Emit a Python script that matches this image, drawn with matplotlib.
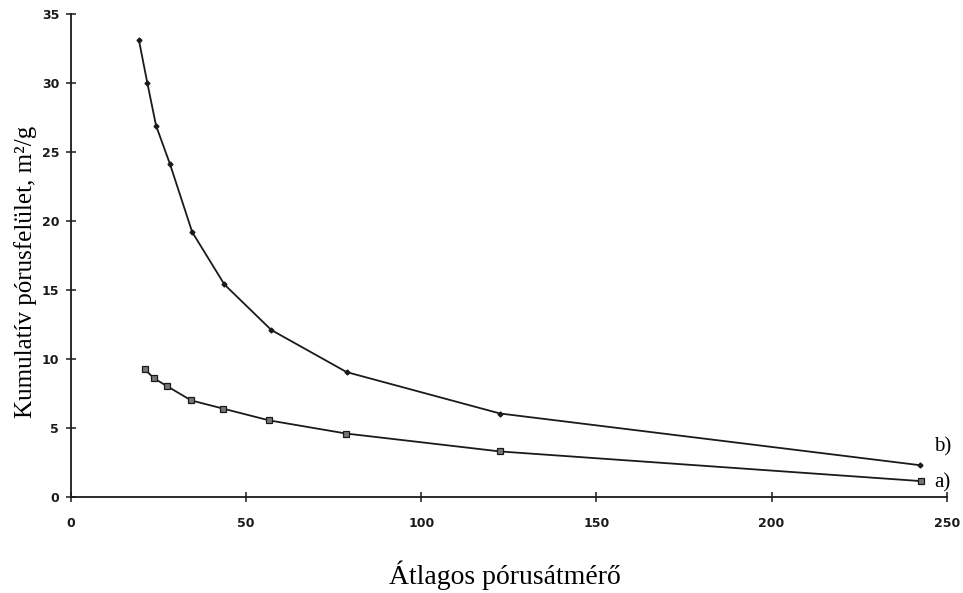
import matplotlib
matplotlib.use('Agg')
import matplotlib.pyplot as plt

# series b) (upper curve)
b_x = [19.4, 21.8, 24.3, 28.3, 34.6, 43.8, 57.2, 78.7, 122.5, 242.5]
b_y = [33.1, 30.0, 26.9, 24.1, 19.2, 15.4, 12.1, 9.05, 6.05, 2.3]
# series a) (lower curve)
a_x = [21.1, 23.7, 27.3, 34.3, 43.5, 56.6, 78.5, 122.5, 242.7]
a_y = [9.25, 8.6, 8.05, 7.0, 6.4, 5.55, 4.6, 3.3, 1.15]

x_ticks = [0, 50, 100, 150, 200, 250]
y_ticks = [0, 5, 10, 15, 20, 25, 30, 35]

serif = ['Liberation Serif', 'DejaVu Serif']

fig = plt.figure(figsize=(9.63, 5.93), dpi=100)
ax = fig.add_axes([0.0737, 0.1619, 0.9094, 0.8145])

ax.plot(b_x, b_y, color='#1a1a1a', lw=1.3, marker='D', ms=2.5,
        mfc='#1a1a1a', mec='#1a1a1a')
ax.plot(a_x, a_y, color='#1a1a1a', lw=1.3, marker='s', ms=5,
        mfc='#777777', mec='#1a1a1a', mew=0.9)

ax.text(246.5, 3.6, 'b)', family=serif, fontsize=15, va='center', ha='left')
ax.text(246.5, 1.0, 'a)', family=serif, fontsize=15, va='center', ha='left')

ax.set_xlim(0, 250)
ax.set_ylim(0, 35)
ax.set_xticks(x_ticks)
ax.set_yticks(y_ticks)
for s in ['top', 'right']:
    ax.spines[s].set_visible(False)
for s in ['left', 'bottom']:
    ax.spines[s].set_linewidth(1.3)
    ax.spines[s].set_color('#1a1a1a')
ax.tick_params(direction='inout', length=7, width=1.1, colors='#1a1a1a')
ax.tick_params(axis='x', pad=11)
ax.tick_params(axis='y', pad=5)
for lab in ax.get_xticklabels() + ax.get_yticklabels():
    lab.set_family('DejaVu Sans')
    lab.set_fontweight('bold')
    lab.set_fontsize(9)

ax.set_ylabel('Kumulatív pórusfelület, m²/g', family=serif, fontsize=18)
ax.yaxis.set_label_coords(-0.039, 0.466)
ax.set_xlabel('Átlagos pórusátmérő', family=serif, fontsize=20, va='baseline')
ax.xaxis.set_label_coords(0.496, -0.181)

fig.savefig('out.png', dpi=100)
